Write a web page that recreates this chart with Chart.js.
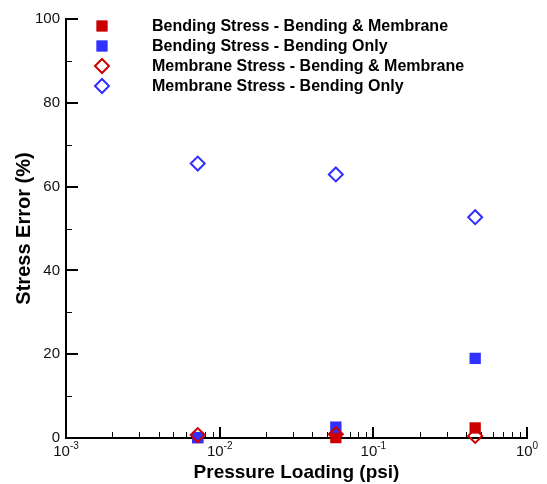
<!DOCTYPE html>
<html><head><meta charset="utf-8">
<script src="https://cdn.jsdelivr.net/npm/chart.js@4/dist/chart.umd.min.js"></script>
<style>html,body{margin:0;padding:0;background:#fff;} canvas{display:block;}</style>
</head><body>
<canvas id="c" width="547" height="484"></canvas>
<script>
// ---- data ----
const pressure = [0.0072, 0.057, 0.46];              // psi
const bendingBM = [0.1, 0.1, 2.4];                     // Bending Stress - Bending & Membrane
const bendingOnly = [0.1, 2.6, 19.0];                  // Bending Stress - Bending Only
const membraneBM = [0.7, 0.9, 0.5];                    // Membrane Stress - Bending & Membrane
const membraneOnly = [65.5, 62.9, 52.7];               // Membrane Stress - Bending Only
const seriesLabels = [
  'Bending Stress - Bending & Membrane',
  'Bending Stress - Bending Only',
  'Membrane Stress - Bending & Membrane',
  'Membrane Stress - Bending Only'
];
const xDecades = [-3, -2, -1, 0];
const xTickBase = '10';
const xTickExponents = ['-3', '-2', '-1', '0'];
const yMajorTicks = [0, 20, 40, 60, 80, 100];
const yMinorTicks = [10, 30, 50, 70, 90];

const RED = '#cc0000', BLUE = '#3030ff';
const pts = arr => pressure.map((x, i) => ({x: x, y: arr[i]}));

const datasets = [
  {label: seriesLabels[0], data: pts(bendingBM), pointStyle: 'rect', pointRadius: 8, backgroundColor: RED, borderColor: RED, borderWidth: 0, order: 4},
  {label: seriesLabels[1], data: pts(bendingOnly), pointStyle: 'rect', pointRadius: 8, backgroundColor: BLUE, borderColor: BLUE, borderWidth: 0, order: 3},
  {label: seriesLabels[2], data: pts(membraneBM), pointStyle: 'rectRot', pointRadius: 7, backgroundColor: 'rgba(0,0,0,0)', borderColor: RED, borderWidth: 2, order: 2},
  {label: seriesLabels[3], data: pts(membraneOnly), pointStyle: 'rectRot', pointRadius: 7, backgroundColor: 'rgba(0,0,0,0)', borderColor: BLUE, borderWidth: 2, order: 1}
];
datasets.forEach(d => { d.showLine = false; d.clip = false; d.pointHoverRadius = d.pointRadius; });

const FONT = '"Liberation Sans", Arial, Helvetica, sans-serif';

const innerTicks = {
  id: 'innerTicks',
  beforeDatasetsDraw(chart) {
    const {ctx, scales: {x, y}} = chart;
    ctx.save();
    ctx.strokeStyle = '#000';
    x.ticks.forEach(t => {
      const px = Math.round(x.getPixelForValue(t.value));
      ctx.beginPath();
      if (t.major) { ctx.lineWidth = 2; ctx.moveTo(px, y.bottom); ctx.lineTo(px, y.bottom - 11); }
      else { ctx.lineWidth = 1; ctx.moveTo(px + 0.5, y.bottom); ctx.lineTo(px + 0.5, y.bottom - 6); }
      ctx.stroke();
    });
    yMajorTicks.forEach(v => {
      const py = Math.round(y.getPixelForValue(v));
      ctx.lineWidth = 2; ctx.beginPath(); ctx.moveTo(x.left, py); ctx.lineTo(x.left + 12, py); ctx.stroke();
    });
    yMinorTicks.forEach(v => {
      const py = Math.round(y.getPixelForValue(v)) + 0.5;
      ctx.lineWidth = 1; ctx.beginPath(); ctx.moveTo(x.left, py); ctx.lineTo(x.left + 6, py); ctx.stroke();
    });
    ctx.restore();
  },
  afterDraw(chart) {
    // power-of-ten labels with superscript exponents, placed at the scale's own pixels
    const {ctx, scales: {x}} = chart;
    ctx.save();
    ctx.fillStyle = '#111';
    ctx.textBaseline = 'alphabetic';
    ctx.textAlign = 'left';
    xDecades.forEach((e, i) => {
      const px = x.getPixelForValue(Math.pow(10, e));
      ctx.font = '15px ' + FONT;
      const wb = ctx.measureText(xTickBase).width;
      ctx.font = '10px ' + FONT;
      const we = ctx.measureText(xTickExponents[i]).width;
      const left = px - (wb + we) / 2;
      ctx.font = '15px ' + FONT;
      ctx.fillText(xTickBase, left, x.top + 18);
      ctx.font = '10px ' + FONT;
      ctx.fillText(xTickExponents[i], left + wb, x.top + 11);
    });
    ctx.restore();
  }
};

const insideLegend = {
  id: 'insideLegend',
  afterDraw(chart) {
    const ctx = chart.ctx;
    ctx.save();
    chart.data.datasets.forEach((ds, i) => {
      const yy = 26 + 20 * i;
      ctx.fillStyle = ds.backgroundColor;
      ctx.strokeStyle = ds.borderColor;
      ctx.lineWidth = ds.borderWidth;
      Chart.helpers.drawPoint(ctx, {pointStyle: ds.pointStyle, radius: ds.pointRadius, borderWidth: ds.borderWidth, rotation: 0}, 102, yy);
      ctx.fillStyle = '#000';
      ctx.font = 'bold 16px ' + FONT;
      ctx.textBaseline = 'middle';
      ctx.textAlign = 'left';
      ctx.fillText(ds.label, 152, yy + 1);
    });
    ctx.restore();
  }
};

new Chart(document.getElementById('c'), {
  type: 'scatter',
  data: {datasets: datasets},
  options: {
    responsive: false,
    animation: false,
    events: [],
    devicePixelRatio: 1,
    layout: {padding: {top: 19, right: 20, left: 0, bottom: 0}},
    plugins: {legend: {display: false}, tooltip: {enabled: false}},
    scales: {
      x: {
        type: 'logarithmic',
        min: 0.001, max: 1,
        afterBuildTicks(scale) {
          const ticks = [];
          xDecades.forEach(e => {
            const top = e === 0 ? 1 : 9;
            for (let m = 1; m <= top; m++) ticks.push({value: m * Math.pow(10, e), major: m === 1});
          });
          scale.ticks = ticks;
        },
        afterFit(scale) { scale.height = 46; },
        grid: {display: false, drawTicks: false},
        border: {display: true, color: '#000', width: 2},
        ticks: {display: false},
        title: {display: true, text: 'Pressure Loading (psi)', color: '#000', font: {family: FONT, size: 19, weight: 'bold'}, padding: {top: 1, bottom: 0}}
      },
      y: {
        min: 0, max: 100,
        afterBuildTicks(scale) { scale.ticks = yMajorTicks.map(v => ({value: v})); },
        afterFit(scale) { scale.width = 66; },
        grid: {display: false, drawTicks: false},
        border: {display: true, color: '#000', width: 2},
        ticks: {padding: 6, color: '#111', font: {family: FONT, size: 15}},
        title: {display: true, text: 'Stress Error (%)', color: '#000', font: {family: FONT, size: 20, weight: 'bold'}, padding: {top: 12, bottom: 0}}
      }
    }
  },
  plugins: [innerTicks, insideLegend]
});
</script>
</body></html>
